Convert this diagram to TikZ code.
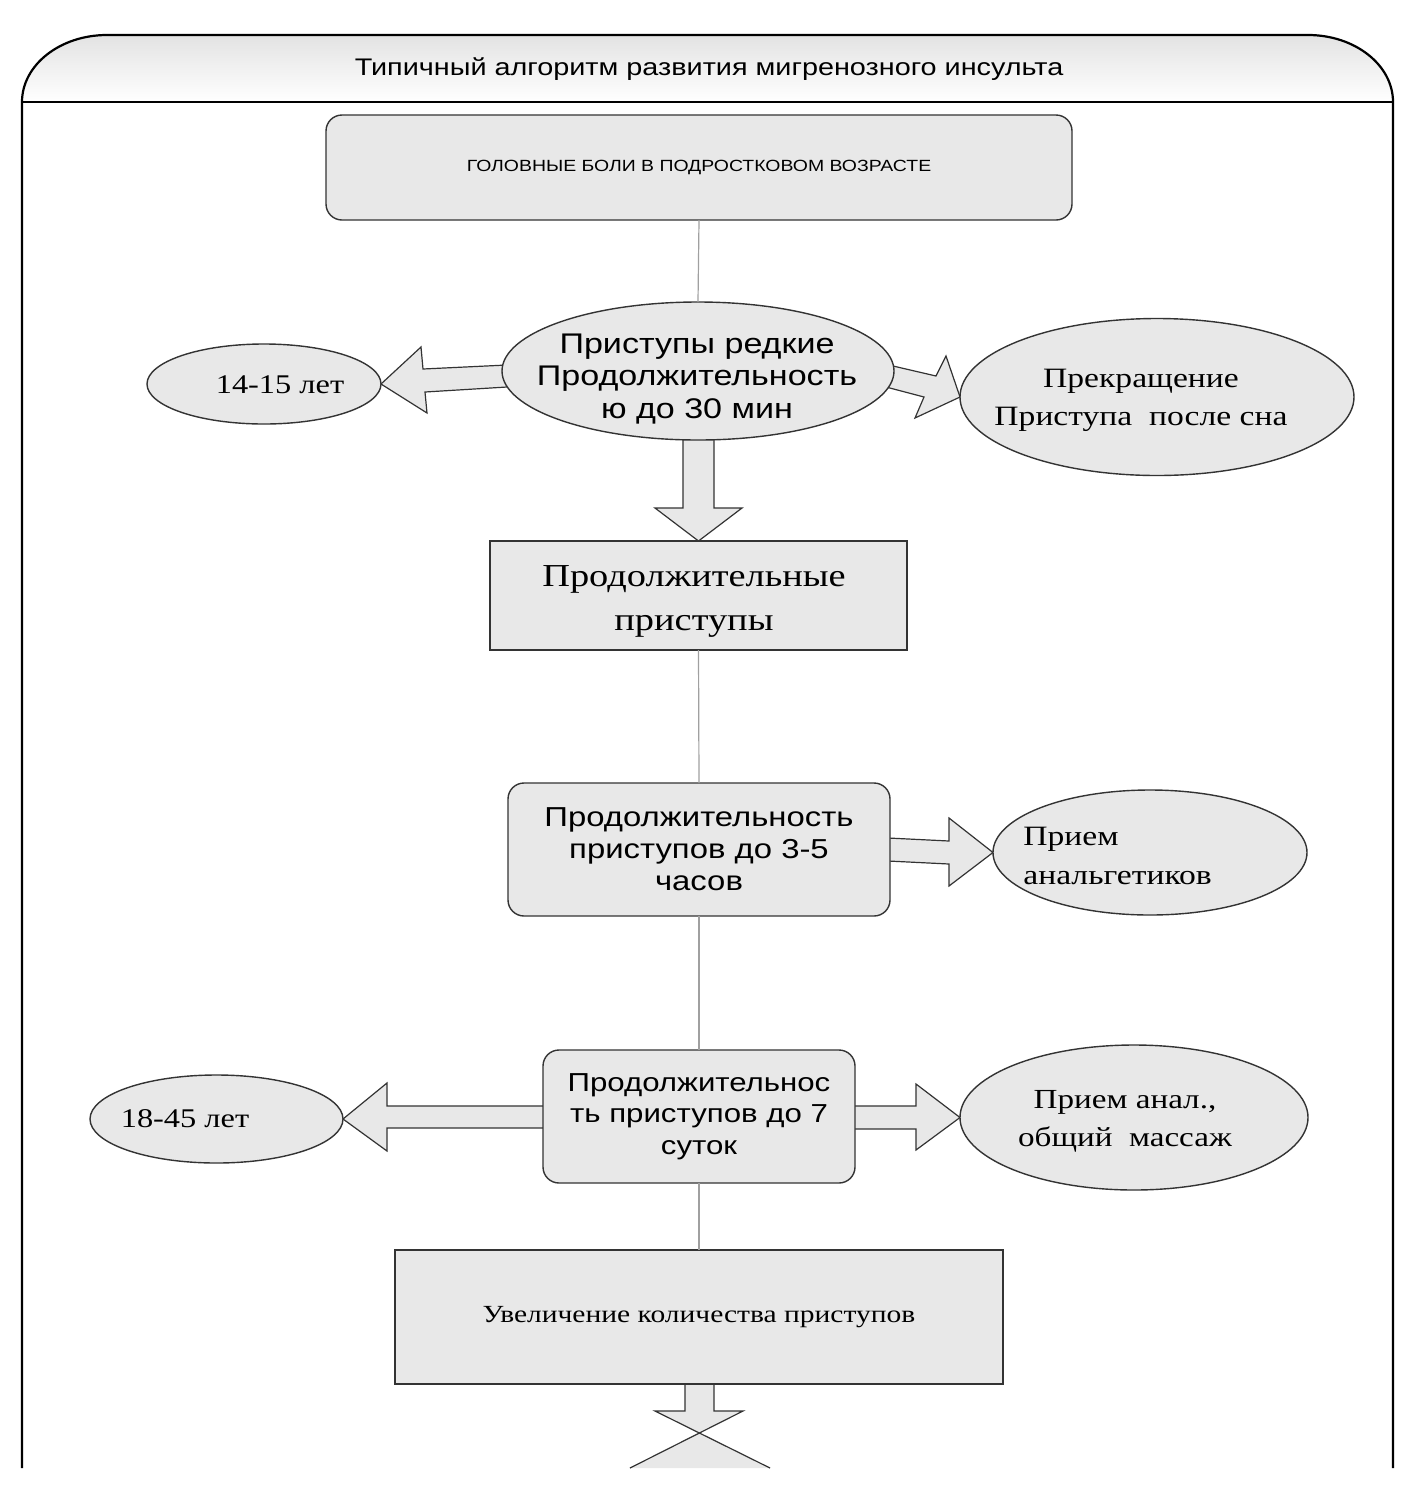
\documentclass[tikz,border=0pt]{standalone}
\usepackage{fontspec}
\newfontfamily\sansf[FakeStretch=1.2]{Liberation Sans}
\newfontfamily\serf[FakeStretch=1.2]{Liberation Serif}
\usetikzlibrary{shapes.geometric,calc,backgrounds}
\definecolor{boxfill}{HTML}{E8E8E8}
\definecolor{edgec}{HTML}{333333}
\definecolor{connc}{HTML}{A0A0A0}
\begin{document}
\begin{tikzpicture}[x=0.5pt,y=-0.5pt,
  shp/.style={draw=edgec,fill=boxfill,line width=0.7pt,inner sep=0pt,outer sep=0pt},
  rbox/.style={shp,rectangle,rounded corners=8pt,align=center},
  sbox/.style={shp,rectangle,align=center},
  ell/.style={shp,ellipse},
  conn/.style={draw=connc,line width=0.6pt},
  barrow/.style={draw=edgec,fill=boxfill,line width=0.6pt,line join=miter},
  frame/.style={draw=black,line width=1.1pt},
  txt/.style={inner sep=0pt,align=center,text=black}]
\useasboundingbox (0,0) rectangle (1418,1500);
% header
\shade[top color=gray!22,bottom color=white] (22,102) .. controls (22,65) and (60,35) .. (107,35) -- (1308,35) .. controls (1355,35) and (1393,65) .. (1393,102) -- cycle;
\draw[frame] (22,1468) -- (22,102) .. controls (22,65) and (60,35) .. (107,35) -- (1308,35) .. controls (1355,35) and (1393,65) .. (1393,102) -- (1393,1468);
\draw[frame] (22,102) -- (1393,102);
\node[txt,font=\sansf\fontsize{12}{14}\selectfont] (title) at (709,69) {Типичный алгоритм развития мигренозного инсульта};

% boxes
\node[rbox,minimum width=373pt,minimum height=52.5pt,font=\sansf\fontsize{8.1}{9}\selectfont] (b1) at (699,167.5) {ГОЛОВНЫЕ БОЛИ В ПОДРОСТКОВОМ ВОЗРАСТЕ};
\node[sbox,minimum width=208.5pt,minimum height=54.5pt] (b2) at (698.5,595.5) {};
\node[txt,font=\serf\fontsize{16}{22}\selectfont] (b2t) at (694,601) {Продолжительные\\приступы};
\node[rbox,minimum width=191pt,minimum height=66.5pt,font=\sansf\fontsize{13.7}{16}\selectfont] (b3) at (699,849.5) {Продолжительность\\приступов до 3-5\\часов};
\node[rbox,minimum width=156pt,minimum height=66.5pt,font=\sansf\fontsize{13}{15.75}\selectfont] (b4) at (699,1116.5) {Продолжительнос\\ть приступов до 7\\суток};
\node[sbox,minimum width=304pt,minimum height=67pt,font=\serf\fontsize{12.3}{14}\selectfont] (b5) at (699,1317) {Увеличение количества приступов};

% ellipses
\node[ell,minimum width=196pt,minimum height=69pt] (e1) at (698,371) {};
\node[txt,font=\sansf\fontsize{14.2}{16.25}\selectfont] (e1t) at (697,379) {Приступы редкие\\Продолжительность\\ю до 30 мин};
\node[ell,minimum width=117pt,minimum height=40pt] (e1l) at (264,384) {};
\node[txt,font=\serf\fontsize{13.5}{16}\selectfont] (e1lt) at (280,385) {14-15 лет};
\node[ell,minimum width=197pt,minimum height=78.5pt] (e1r) at (1157,397) {};
\node[txt,font=\serf\fontsize{14}{19}\selectfont] (e1rt) at (1141,400) {Прекращение\\Приступа\ \ после сна};
\node[ell,minimum width=157pt,minimum height=62.5pt] (e3) at (1150,852.5) {};
\node[txt,anchor=west,align=left,font=\serf\fontsize{14}{19.5}\selectfont] (e3t) at (1023,856) {Прием\\анальгетиков};
\node[ell,minimum width=126.5pt,minimum height=44pt] (e4l) at (216.5,1119) {};
\node[txt,font=\serf\fontsize{13.5}{16}\selectfont] (e4lt) at (185,1119) {18-45 лет};
\node[ell,minimum width=174pt,minimum height=72.5pt] (e4r) at (1134,1117.5) {};
\node[txt,font=\serf\fontsize{13.8}{19}\selectfont] (e4rt) at (1125,1121) {Прием анал.,\\общий\ \ массаж};

% connectors
\draw[conn] (b1.south) -- (e1.north);
\draw[conn] (b2.south) -- (b3.north);
\draw[conn] (b3.south) -- (b4.north);
\draw[conn] (b4.south) -- (b5.north);

\begin{scope}[on background layer]
\fill[white] (0,0) rectangle (1418,1500);
\draw[barrow] (683,436) -- (714,436) -- (714,508) -- (742,508) -- (b2.north) -- (655,508) -- (683,508) -- cycle;
\draw[barrow] (507,365) -- (423,369) -- (421,347) -- (e1l.east) -- (427,413) -- (425,392) -- (507,387) -- cycle;
\draw[barrow] (893,366) -- (936,376) -- (946,356) -- (e1r.west) -- (915,418) -- (924,397) -- (886,387) -- cycle;
\draw[barrow] (888,838) -- (949,841) -- (949,818) -- (e3.west) -- (949,886) -- (949,864) -- (888,861) -- cycle;
\draw[barrow] (545,1106) -- (387,1106) -- (387,1083) -- (e4l.east) -- (387,1151) -- (387,1128) -- (545,1128) -- cycle;
\draw[barrow] (853,1106) -- (916,1106) -- (916,1084) -- (e4r.west) -- (916,1150) -- (916,1129) -- (853,1129) -- cycle;
% bottom arrow (cut off)
\coordinate (a7) at (699.4,1433);
\fill[boxfill] ($(b5.south)+(-14,-2)$) rectangle (714,1411);
\fill[boxfill] (655,1411) -- (743,1411) -- (a7) -- cycle;
\fill[boxfill] (a7) -- (770,1468) -- (630,1468) -- cycle;
\draw[edgec,line width=0.6pt] ($(b5.south)+(-14,0)$) -- (685,1411) -- (655,1411) -- (770,1468);
\draw[edgec,line width=0.6pt] ($(b5.south)+(15,0)$) -- (714,1411) -- (743,1411) -- (630,1468);
\end{scope}
\end{tikzpicture}
\end{document}
